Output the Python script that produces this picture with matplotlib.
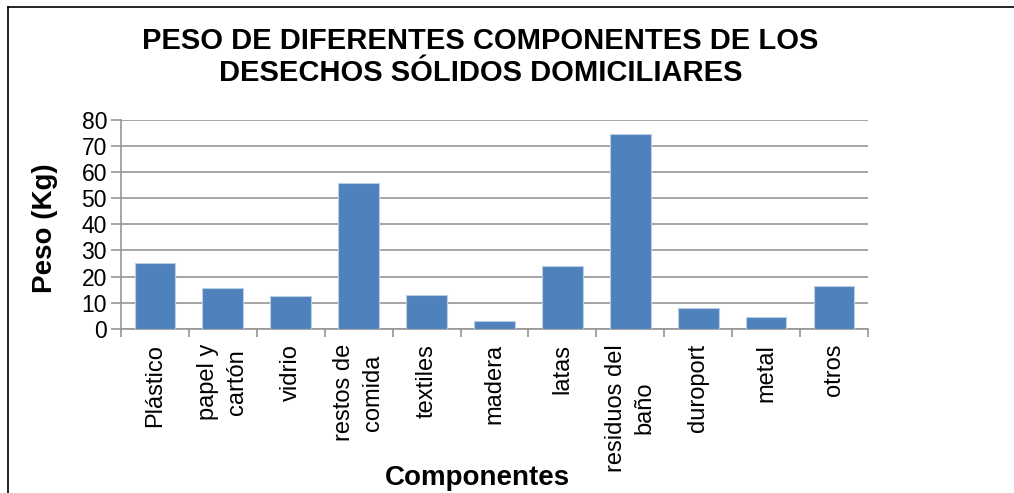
import matplotlib
matplotlib.use('Agg')
import matplotlib.pyplot as plt
from matplotlib.lines import Line2D
import numpy as np

plt.rcParams['font.family'] = ['Liberation Sans', 'DejaVu Sans']

categories = ['Plástico', 'papel y\ncartón', 'vidrio', 'restos de\ncomida', 'textiles',
              'madera', 'latas', 'residuos del\nbaño', 'duroport', 'metal', 'otros']
peso_kg = [25, 15.7, 12.4, 56, 12.9, 2.9, 23.9, 74.5, 7.9, 4.5, 16.3]
y_ticks = [0, 10, 20, 30, 40, 50, 60, 70, 80]

fig = plt.figure(figsize=(10.14, 4.93), dpi=100)
ax = fig.add_axes([0.1193, 0.3333, 0.7367, 0.4233])

x = np.arange(len(categories))
ax.bar(x, peso_kg, width=0.6, color='#4F81BD', edgecolor='#B9CDE5', linewidth=0.8, zorder=3)

ax.set_xlim(-0.5, len(categories) - 0.5)
ax.set_ylim(0, 80)
ax.set_yticks(y_ticks)
ax.set_yticklabels([str(v) for v in y_ticks], fontsize=16.5)
ax.yaxis.grid(True, color='#969696', linewidth=1.2, zorder=0)

ax.set_xticks(x)
ax.set_xticklabels(categories, rotation=90, fontsize=17, multialignment='center', linespacing=1.4)
ax.set_xticks(np.arange(len(categories) + 1) - 0.5, minor=True)
ax.tick_params(axis='x', which='major', length=0, pad=11)
ax.tick_params(axis='x', which='minor', length=6, color='#969696', width=1.2)
ax.tick_params(axis='y', length=7, color='#969696', width=1.2, pad=3)

for side in ['top', 'right']:
    ax.spines[side].set_visible(False)
for side in ['left', 'bottom']:
    ax.spines[side].set_color('#969696')
    ax.spines[side].set_linewidth(1.2)

fig.text(0.474, 1 - 57 / 493, 'PESO DE DIFERENTES COMPONENTES DE LOS\nDESECHOS SÓLIDOS DOMICILIARES',
         ha='center', va='center', fontsize=21, fontweight='bold', linespacing=1.2)
fig.text(45 / 1014, 1 - 228 / 493, 'Peso (Kg)', rotation=90, ha='center', va='center',
         fontsize=20, fontweight='bold')
fig.text(477 / 1014, 1 - 478 / 493, 'Componentes', ha='center', va='center',
         fontsize=20, fontweight='bold')

# chart frame (only left and top edges visible)
fig.add_artist(Line2D([8 / 1014, 8 / 1014], [0, 1 - 7 / 493], transform=fig.transFigure, color='black', linewidth=1.2))
fig.add_artist(Line2D([8 / 1014, 1], [1 - 7 / 493, 1 - 7 / 493], transform=fig.transFigure, color='black', linewidth=1.2))

fig.savefig('out.png', dpi=100)
